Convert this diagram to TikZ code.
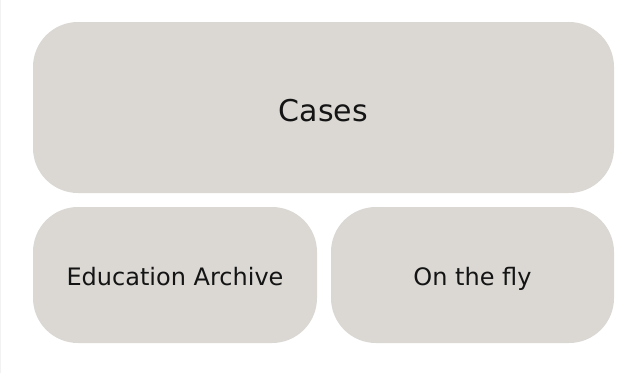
\documentclass[tikz,border=0pt]{standalone}
\usepackage{fontspec}
\setmainfont{DejaVu Sans}
\definecolor{panelfill}{RGB}{219,216,212}
\definecolor{paneltext}{RGB}{20,20,20}
\begin{document}
\begin{tikzpicture}[x=1pt,y=-1pt,
  panel/.style={fill=panelfill, draw=none, rounded corners=45pt,
    inner sep=0pt, outer sep=0pt},
  label/.style={anchor=base, inner sep=0pt, text=paneltext,
    font=\fontsize{24}{28}\selectfont},
  biglabel/.style={label, font=\fontsize{30}{34}\selectfont}]
  % page frame
  \useasboundingbox (0,0) rectangle (635,373);
  \fill[white] (0,0) rectangle (635,373);
  \draw[line width=1pt, draw=black!5] (0.5,0) -- (0.5,373);
  % panels
  \node[panel, minimum width=581pt, minimum height=171pt] (cases) at (323.5,107.5) {};
  \node[panel, minimum width=284pt, minimum height=136pt] (archive) at (175,275) {};
  \node[panel, minimum width=283pt, minimum height=136pt] (fly) at (472.5,275) {};
  % captions, sharing a baseline within each row
  \node[biglabel] (casestext) at (cases.center |- 0,121) {Cases};
  \node[label] (archivetext) at (archive.center |- 0,285) {Education Archive};
  \node[label] (flytext) at (fly.center |- 0,285) {On the fly};
\end{tikzpicture}
\end{document}
